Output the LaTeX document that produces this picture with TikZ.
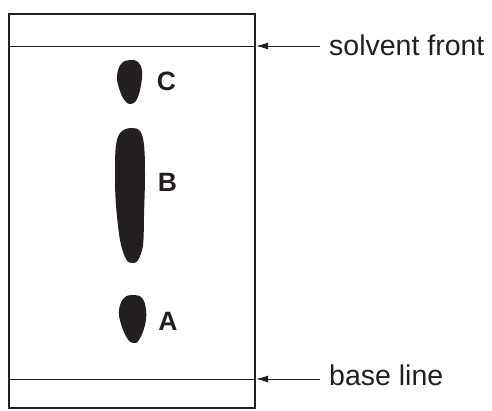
\documentclass[tikz,border=0pt]{standalone}
\usepackage{fontspec}
\setmainfont{Liberation Sans}
\usetikzlibrary{arrows.meta}
\definecolor{ink}{RGB}{35,31,32}
\tikzset{
  plate/.style={draw=ink, line width=2pt},
  mark line/.style={draw=ink, line width=1pt},
  spot/.style={fill=ink, draw=none},
  spotlabel/.style={inner sep=0pt, font=\fontsize{26.5}{28}\selectfont\bfseries, text=ink},
  note/.style={anchor=west, inner xsep=9pt, inner ysep=0pt, font=\fontsize{28.5}{30}\selectfont, text=ink},
  pointer/.style={-{Latex[length=12pt,width=7pt]}, draw=ink, line width=1pt}
}
\begin{document}
\begin{tikzpicture}[x=1pt, y=-1pt]
    \useasboundingbox (0,0) rectangle (492,410);
    \draw[plate] (9,14) rectangle (255,408);
    \draw[mark line] (8,46) -- (256,46);
    \draw[mark line] (8,379) -- (256,379);
    \fill[spot] plot[smooth cycle, tension=0.7] coordinates {(130,60) (138,62) (142,71) (141,85) (137,99) (131,104) (125,101) (120,91) (117,77) (121,64)};
    \fill[spot] plot[smooth cycle, tension=0.6] coordinates {(131,128) (140,131) (144,145) (145,175) (144,215) (143,245) (138,260) (132,263) (126,259) (120,240) (116,205) (115,175) (116,145) (121,132)};
    \fill[spot] plot[smooth cycle, tension=0.7] coordinates {(133,295) (142,298) (146,310) (145,325) (139,340) (133,343) (127,338) (121,324) (119,310) (124,298)};
    \node[spotlabel] (labC) at (166.5,81.5) {C};
    \node[spotlabel] (labB) at (167.5,182.5) {B};
    \node[spotlabel] (labA) at (168,321.5) {A};
    \coordinate (tipfront) at (256,46);
    \coordinate (tipbase) at (256,379);
    \node[note] (front) at (320,45.5) {solvent front};
    \node[note] (base) at (320,375) {base line};
    \draw[pointer] (front.west |- tipfront) -- (tipfront);
    \draw[pointer] (base.west |- tipbase) -- (tipbase);
  \end{tikzpicture}
\end{document}
